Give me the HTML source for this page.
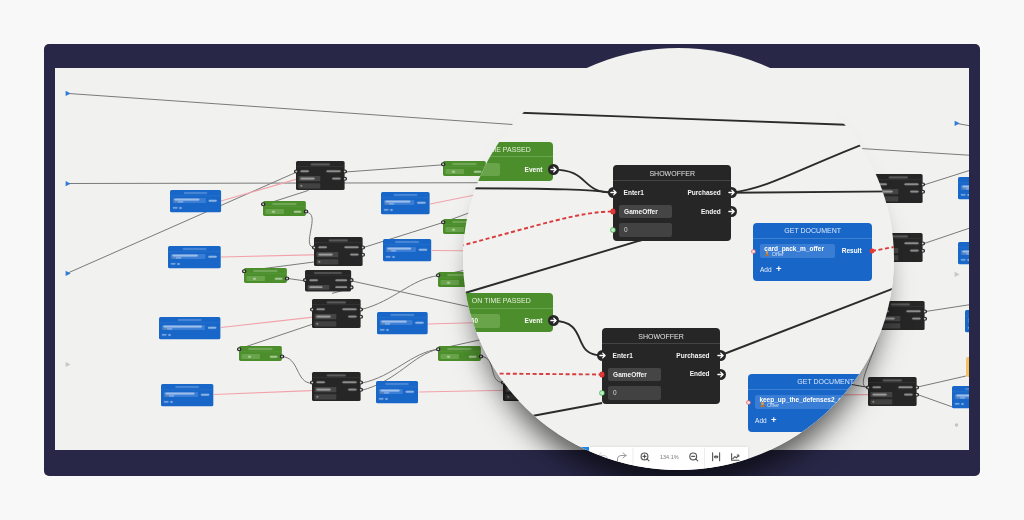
<!DOCTYPE html><html><head><meta charset="utf-8"><style>
*{margin:0;padding:0;box-sizing:border-box}
html,body{width:1024px;height:520px;overflow:hidden;background:#f8f8f8;font-family:"Liberation Sans", sans-serif}
.frame{position:absolute;left:44px;top:44px;width:936px;height:431.5px;background:#282747;border-radius:5px}
.canvas{position:absolute;left:55.4px;top:67.5px;width:913.6px;height:381.5px;background:#f1f1f0;overflow:hidden}
.abs{position:absolute;left:0;top:0}
.sm{position:absolute;transform-origin:0 0;transform:scale(0.412,0.382)}
.bg{position:absolute}
.sm .dot{display:none}
.sm .t{text-shadow:0 0 2px rgba(255,255,255,0.8),0 0 1px #fff;opacity:0.8}
.sm .ht{text-shadow:none;opacity:0.6}
.sm .pt svg{display:none}
.sm .pt{background:#c8c8c8 !important;border:3.2px solid #262626}
.sm{filter:blur(1.1px)}
.bar{position:absolute;border-radius:3px;opacity:0.5;box-shadow:0 0 2.5px 0.3px currentColor}
.hb{opacity:0.28}
body{-webkit-font-smoothing:antialiased}
.canvas,.magin{will-change:transform}
.nd{position:relative;border-radius:4px}
.dk{background:#262626}
.bl{background:#1766c8}
.gr{background:#4b8e2b}
.hd{position:absolute;left:0;top:0;right:0}
.bx{position:absolute;border-radius:2px}
.t{position:absolute;white-space:nowrap}
.pt{position:absolute;border-radius:50%}
.pt svg{position:absolute;left:0;top:0}
.mag{position:absolute;left:462.5px;top:48px;width:431px;height:422px;border-radius:50%;overflow:hidden;background:#f1f1f0}
.shclip{position:absolute;left:44px;top:44px;width:936px;height:431.5px;border-radius:5px;overflow:hidden}
.sh{position:absolute;left:418.5px;top:4px;width:431px;height:422px;border-radius:50%;box-shadow:0 26px 26px -12px rgba(0,0,0,0.42),0 30px 36px -16px rgba(0,0,0,0.42)}
.magin{position:absolute;left:-462.5px;top:-48px;width:1024px;height:520px}
</style></head><body><div class="frame"></div><div class="canvas"><div class="abs" style="left:-55.4px;top:-67.5px;width:1024px;height:520px"><svg class="abs" width="1024" height="520"><line x1="67" y1="92.4" x2="600" y2="129.6" stroke="#7a7a7a" stroke-width="1" opacity="1"/><line x1="67" y1="182.5" x2="600" y2="181.5" stroke="#7a7a7a" stroke-width="1" opacity="1"/><line x1="67" y1="272.4" x2="296.8" y2="171" stroke="#7a7a7a" stroke-width="1" opacity="1"/><line x1="221" y1="200" x2="296.8" y2="178.2" stroke="#f2a3aa" stroke-width="1.2" opacity="1"/><line x1="345.5" y1="171" x2="443" y2="163.8" stroke="#7a7a7a" stroke-width="1" opacity="1"/><line x1="263" y1="204" x2="308.5" y2="189.4" stroke="#7a7a7a" stroke-width="1" opacity="1"/><path d="M306 211.4C322 211.4 300 246.6 314.7 246.6" fill="none" stroke="#7a7a7a" stroke-width="1" opacity="1"/><line x1="430" y1="203" x2="500" y2="189" stroke="#f2a3aa" stroke-width="1.2" opacity="1"/><line x1="221" y1="256" x2="314.7" y2="253.8" stroke="#f2a3aa" stroke-width="1.2" opacity="1"/><line x1="363.2" y1="246.6" x2="443" y2="221.5" stroke="#7a7a7a" stroke-width="1" opacity="1"/><line x1="443" y1="221.5" x2="520" y2="193" stroke="#7a7a7a" stroke-width="1" opacity="1"/><line x1="432" y1="249.5" x2="500" y2="250" stroke="#f2a3aa" stroke-width="1.2" opacity="1"/><line x1="244.7" y1="270" x2="314.7" y2="260.9" stroke="#7a7a7a" stroke-width="1" opacity="1"/><line x1="288" y1="277.5" x2="305.8" y2="280" stroke="#7a7a7a" stroke-width="1" opacity="1"/><line x1="352" y1="280" x2="520" y2="317" stroke="#7a7a7a" stroke-width="1" opacity="1"/><line x1="352" y1="287.1" x2="332" y2="292.4" stroke="#7a7a7a" stroke-width="1" opacity="1"/><path d="M361 308.6C395 300 410 278 438.8 274.6" fill="none" stroke="#7a7a7a" stroke-width="1" opacity="1"/><line x1="438.8" y1="274.6" x2="520" y2="258" stroke="#7a7a7a" stroke-width="1" opacity="1"/><line x1="221" y1="326.5" x2="312.3" y2="316.2" stroke="#f2a3aa" stroke-width="1.2" opacity="1"/><line x1="238.9" y1="348" x2="312.3" y2="323.3" stroke="#7a7a7a" stroke-width="1" opacity="1"/><path d="M281 355.6C300 355.6 295 382.3 312.3 382.3" fill="none" stroke="#7a7a7a" stroke-width="1" opacity="1"/><line x1="214" y1="393.5" x2="312.3" y2="389.5" stroke="#f2a3aa" stroke-width="1.2" opacity="1"/><line x1="428" y1="323" x2="500" y2="321" stroke="#f2a3aa" stroke-width="1.2" opacity="1"/><path d="M361 382.3C395 375 410 352 438.7 348" fill="none" stroke="#7a7a7a" stroke-width="1" opacity="1"/><path d="M361 389.5C398 380 412 354 438.7 348" fill="none" stroke="#7a7a7a" stroke-width="1" opacity="1"/><line x1="438.7" y1="348" x2="520" y2="330" stroke="#7a7a7a" stroke-width="1" opacity="1"/><line x1="418.75" y1="391" x2="520" y2="389" stroke="#f2a3aa" stroke-width="1.2" opacity="1"/><path d="M481.25 355.6C497 356 488 381.5 503 381.5" fill="none" stroke="#7a7a7a" stroke-width="1" opacity="1"/><line x1="956" y1="122.3" x2="969" y2="124.6" stroke="#7a7a7a" stroke-width="1" opacity="1"/><line x1="820" y1="145" x2="969" y2="154.2" stroke="#7a7a7a" stroke-width="1" opacity="1"/><line x1="922.7" y1="184.3" x2="969" y2="169.6" stroke="#7a7a7a" stroke-width="1" opacity="1"/><line x1="820" y1="191.5" x2="873.9" y2="191.5" stroke="#333" stroke-width="1.3" opacity="1"/><line x1="922.7" y1="243" x2="969" y2="227.3" stroke="#7a7a7a" stroke-width="1" opacity="1"/><line x1="925" y1="310.6" x2="969" y2="303.8" stroke="#7a7a7a" stroke-width="1" opacity="1"/><line x1="916" y1="386.4" x2="966" y2="375" stroke="#7a7a7a" stroke-width="1" opacity="1"/><line x1="916" y1="393" x2="952" y2="405.8" stroke="#7a7a7a" stroke-width="1" opacity="1"/><path d="M880 330C872 360 855 386.4 868 386.4" fill="none" stroke="#7a7a7a" stroke-width="1" opacity="1"/><line x1="835" y1="380.5" x2="868" y2="386.4" stroke="#444" stroke-width="1" opacity="1"/><line x1="820" y1="394" x2="868" y2="393.6" stroke="#f2a3aa" stroke-width="1.2" opacity="1"/><path d="M65.6 89.80000000000001L70.6 92.4L65.6 95.0Z" fill="#2f7ad8"/><path d="M65.6 180.1L70.6 182.7L65.6 185.29999999999998Z" fill="#2f7ad8"/><path d="M65.6 269.79999999999995L70.6 272.4L65.6 275.0Z" fill="#2f7ad8"/><path d="M65.6 360.9L70.6 363.5L65.6 366.1Z" fill="#c8c8c8"/><path d="M954.6 119.7L959.6 122.3L954.6 124.89999999999999Z" fill="#2f7ad8"/><path d="M954.6 270.79999999999995L959.6 273.4L954.6 276.0Z" fill="#c8c8c8"/><circle cx="956.5" cy="424" r="1.8" fill="#c4c4c4"/></svg><div class="sm" style="left:296.8px;top:160.6px"><div class="nd dk" style="width:118.2px;height:75.6px"><div class="hd" style="height:15.4px;border-bottom:1px solid #444"></div><div class="bar hb" style="left:calc(50% - 22.75px);top:6.60px;width:45.50px;height:4.20px;background:#e2e2e2;color:#e2e2e2"></div><div class="bar" style="left:10.5px;top:25.35px;width:20.23px;height:3.90px;background:#f4f4f4;color:#f4f4f4"></div><div class="bar" style="right:10.5px;top:25.35px;width:33.23px;height:3.90px;background:#f4f4f4;color:#f4f4f4"></div><div class="bx" style="left:6px;top:39.4px;width:52.5px;height:13.6px;background:#454545"></div><div class="bar" style="left:11px;top:44.25px;width:33.59px;height:3.90px;background:#f4f4f4;color:#f4f4f4"></div><div class="bar" style="right:10.5px;top:44.15px;width:19.86px;height:3.90px;background:#f4f4f4;color:#f4f4f4"></div><div class="bx" style="left:6px;top:57.6px;width:52.5px;height:14px;background:#424242"></div><div class="bar" style="left:11px;top:62.75px;width:3.61px;height:3.90px;background:#dadada;color:#dadada"></div><div class="pt" style="left:-5.5px;top:21.8px;width:11.0px;height:11.0px;background:#262626"><svg width="11.0" height="11.0" viewBox="-5.5 -5.5 11 11"><path d="M-2.6 0H2.4M0.2-2.4L2.6 0L0.2 2.4" stroke="#fff" stroke-width="1.3" fill="none" stroke-linecap="round" stroke-linejoin="round"/></svg></div><div class="pt" style="left:112.7px;top:21.8px;width:11.0px;height:11.0px;background:#262626"><svg width="11.0" height="11.0" viewBox="-5.5 -5.5 11 11"><path d="M-2.6 0H2.4M0.2-2.4L2.6 0L0.2 2.4" stroke="#fff" stroke-width="1.3" fill="none" stroke-linecap="round" stroke-linejoin="round"/></svg></div><div class="pt" style="left:112.7px;top:40.6px;width:11.0px;height:11.0px;background:#262626"><svg width="11.0" height="11.0" viewBox="-5.5 -5.5 11 11"><path d="M-2.6 0H2.4M0.2-2.4L2.6 0L0.2 2.4" stroke="#fff" stroke-width="1.3" fill="none" stroke-linecap="round" stroke-linejoin="round"/></svg></div><div class="pt dot" style="left:-2.2px;top:43.9px;width:4.4px;height:4.4px;background:#e53935;box-shadow:0 0 0 0.5px #c62828"></div><div class="pt dot" style="left:-2.2px;top:62.39999999999999px;width:4.4px;height:4.4px;background:#b9f0c8;box-shadow:0 0 0 0.7px #4caf50"></div></div></div><div class="sm" style="left:314.7px;top:236.2px"><div class="nd dk" style="width:118.2px;height:75.6px"><div class="hd" style="height:15.4px;border-bottom:1px solid #444"></div><div class="bar hb" style="left:calc(50% - 22.75px);top:6.60px;width:45.50px;height:4.20px;background:#e2e2e2;color:#e2e2e2"></div><div class="bar" style="left:10.5px;top:25.35px;width:20.23px;height:3.90px;background:#f4f4f4;color:#f4f4f4"></div><div class="bar" style="right:10.5px;top:25.35px;width:33.23px;height:3.90px;background:#f4f4f4;color:#f4f4f4"></div><div class="bx" style="left:6px;top:39.4px;width:52.5px;height:13.6px;background:#454545"></div><div class="bar" style="left:11px;top:44.25px;width:33.59px;height:3.90px;background:#f4f4f4;color:#f4f4f4"></div><div class="bar" style="right:10.5px;top:44.15px;width:19.86px;height:3.90px;background:#f4f4f4;color:#f4f4f4"></div><div class="bx" style="left:6px;top:57.6px;width:52.5px;height:14px;background:#424242"></div><div class="bar" style="left:11px;top:62.75px;width:3.61px;height:3.90px;background:#dadada;color:#dadada"></div><div class="pt" style="left:-5.5px;top:21.8px;width:11.0px;height:11.0px;background:#262626"><svg width="11.0" height="11.0" viewBox="-5.5 -5.5 11 11"><path d="M-2.6 0H2.4M0.2-2.4L2.6 0L0.2 2.4" stroke="#fff" stroke-width="1.3" fill="none" stroke-linecap="round" stroke-linejoin="round"/></svg></div><div class="pt" style="left:112.7px;top:21.8px;width:11.0px;height:11.0px;background:#262626"><svg width="11.0" height="11.0" viewBox="-5.5 -5.5 11 11"><path d="M-2.6 0H2.4M0.2-2.4L2.6 0L0.2 2.4" stroke="#fff" stroke-width="1.3" fill="none" stroke-linecap="round" stroke-linejoin="round"/></svg></div><div class="pt" style="left:112.7px;top:40.6px;width:11.0px;height:11.0px;background:#262626"><svg width="11.0" height="11.0" viewBox="-5.5 -5.5 11 11"><path d="M-2.6 0H2.4M0.2-2.4L2.6 0L0.2 2.4" stroke="#fff" stroke-width="1.3" fill="none" stroke-linecap="round" stroke-linejoin="round"/></svg></div><div class="pt dot" style="left:-2.2px;top:43.9px;width:4.4px;height:4.4px;background:#e53935;box-shadow:0 0 0 0.5px #c62828"></div><div class="pt dot" style="left:-2.2px;top:62.39999999999999px;width:4.4px;height:4.4px;background:#b9f0c8;box-shadow:0 0 0 0.7px #4caf50"></div></div></div><div class="sm" style="left:312.3px;top:298.6px"><div class="nd dk" style="width:118.2px;height:75.6px"><div class="hd" style="height:15.4px;border-bottom:1px solid #444"></div><div class="bar hb" style="left:calc(50% - 22.75px);top:6.60px;width:45.50px;height:4.20px;background:#e2e2e2;color:#e2e2e2"></div><div class="bar" style="left:10.5px;top:25.35px;width:20.23px;height:3.90px;background:#f4f4f4;color:#f4f4f4"></div><div class="bar" style="right:10.5px;top:25.35px;width:33.23px;height:3.90px;background:#f4f4f4;color:#f4f4f4"></div><div class="bx" style="left:6px;top:39.4px;width:52.5px;height:13.6px;background:#454545"></div><div class="bar" style="left:11px;top:44.25px;width:33.59px;height:3.90px;background:#f4f4f4;color:#f4f4f4"></div><div class="bar" style="right:10.5px;top:44.15px;width:19.86px;height:3.90px;background:#f4f4f4;color:#f4f4f4"></div><div class="bx" style="left:6px;top:57.6px;width:52.5px;height:14px;background:#424242"></div><div class="bar" style="left:11px;top:62.75px;width:3.61px;height:3.90px;background:#dadada;color:#dadada"></div><div class="pt" style="left:-5.5px;top:21.8px;width:11.0px;height:11.0px;background:#262626"><svg width="11.0" height="11.0" viewBox="-5.5 -5.5 11 11"><path d="M-2.6 0H2.4M0.2-2.4L2.6 0L0.2 2.4" stroke="#fff" stroke-width="1.3" fill="none" stroke-linecap="round" stroke-linejoin="round"/></svg></div><div class="pt" style="left:112.7px;top:21.8px;width:11.0px;height:11.0px;background:#262626"><svg width="11.0" height="11.0" viewBox="-5.5 -5.5 11 11"><path d="M-2.6 0H2.4M0.2-2.4L2.6 0L0.2 2.4" stroke="#fff" stroke-width="1.3" fill="none" stroke-linecap="round" stroke-linejoin="round"/></svg></div><div class="pt" style="left:112.7px;top:40.6px;width:11.0px;height:11.0px;background:#262626"><svg width="11.0" height="11.0" viewBox="-5.5 -5.5 11 11"><path d="M-2.6 0H2.4M0.2-2.4L2.6 0L0.2 2.4" stroke="#fff" stroke-width="1.3" fill="none" stroke-linecap="round" stroke-linejoin="round"/></svg></div><div class="pt dot" style="left:-2.2px;top:43.9px;width:4.4px;height:4.4px;background:#e53935;box-shadow:0 0 0 0.5px #c62828"></div><div class="pt dot" style="left:-2.2px;top:62.39999999999999px;width:4.4px;height:4.4px;background:#b9f0c8;box-shadow:0 0 0 0.7px #4caf50"></div></div></div><div class="sm" style="left:312.3px;top:371.9px"><div class="nd dk" style="width:118.2px;height:75.6px"><div class="hd" style="height:15.4px;border-bottom:1px solid #444"></div><div class="bar hb" style="left:calc(50% - 22.75px);top:6.60px;width:45.50px;height:4.20px;background:#e2e2e2;color:#e2e2e2"></div><div class="bar" style="left:10.5px;top:25.35px;width:20.23px;height:3.90px;background:#f4f4f4;color:#f4f4f4"></div><div class="bar" style="right:10.5px;top:25.35px;width:33.23px;height:3.90px;background:#f4f4f4;color:#f4f4f4"></div><div class="bx" style="left:6px;top:39.4px;width:52.5px;height:13.6px;background:#454545"></div><div class="bar" style="left:11px;top:44.25px;width:33.59px;height:3.90px;background:#f4f4f4;color:#f4f4f4"></div><div class="bar" style="right:10.5px;top:44.15px;width:19.86px;height:3.90px;background:#f4f4f4;color:#f4f4f4"></div><div class="bx" style="left:6px;top:57.6px;width:52.5px;height:14px;background:#424242"></div><div class="bar" style="left:11px;top:62.75px;width:3.61px;height:3.90px;background:#dadada;color:#dadada"></div><div class="pt" style="left:-5.5px;top:21.8px;width:11.0px;height:11.0px;background:#262626"><svg width="11.0" height="11.0" viewBox="-5.5 -5.5 11 11"><path d="M-2.6 0H2.4M0.2-2.4L2.6 0L0.2 2.4" stroke="#fff" stroke-width="1.3" fill="none" stroke-linecap="round" stroke-linejoin="round"/></svg></div><div class="pt" style="left:112.7px;top:21.8px;width:11.0px;height:11.0px;background:#262626"><svg width="11.0" height="11.0" viewBox="-5.5 -5.5 11 11"><path d="M-2.6 0H2.4M0.2-2.4L2.6 0L0.2 2.4" stroke="#fff" stroke-width="1.3" fill="none" stroke-linecap="round" stroke-linejoin="round"/></svg></div><div class="pt" style="left:112.7px;top:40.6px;width:11.0px;height:11.0px;background:#262626"><svg width="11.0" height="11.0" viewBox="-5.5 -5.5 11 11"><path d="M-2.6 0H2.4M0.2-2.4L2.6 0L0.2 2.4" stroke="#fff" stroke-width="1.3" fill="none" stroke-linecap="round" stroke-linejoin="round"/></svg></div><div class="pt dot" style="left:-2.2px;top:43.9px;width:4.4px;height:4.4px;background:#e53935;box-shadow:0 0 0 0.5px #c62828"></div><div class="pt dot" style="left:-2.2px;top:62.39999999999999px;width:4.4px;height:4.4px;background:#b9f0c8;box-shadow:0 0 0 0.7px #4caf50"></div></div></div><div class="sm" style="left:873.9px;top:173.8px"><div class="nd dk" style="width:118.2px;height:75.6px"><div class="hd" style="height:15.4px;border-bottom:1px solid #444"></div><div class="bar hb" style="left:calc(50% - 22.75px);top:6.60px;width:45.50px;height:4.20px;background:#e2e2e2;color:#e2e2e2"></div><div class="bar" style="left:10.5px;top:25.35px;width:20.23px;height:3.90px;background:#f4f4f4;color:#f4f4f4"></div><div class="bar" style="right:10.5px;top:25.35px;width:33.23px;height:3.90px;background:#f4f4f4;color:#f4f4f4"></div><div class="bx" style="left:6px;top:39.4px;width:52.5px;height:13.6px;background:#454545"></div><div class="bar" style="left:11px;top:44.25px;width:33.59px;height:3.90px;background:#f4f4f4;color:#f4f4f4"></div><div class="bar" style="right:10.5px;top:44.15px;width:19.86px;height:3.90px;background:#f4f4f4;color:#f4f4f4"></div><div class="bx" style="left:6px;top:57.6px;width:52.5px;height:14px;background:#424242"></div><div class="bar" style="left:11px;top:62.75px;width:3.61px;height:3.90px;background:#dadada;color:#dadada"></div><div class="pt" style="left:-5.5px;top:21.8px;width:11.0px;height:11.0px;background:#262626"><svg width="11.0" height="11.0" viewBox="-5.5 -5.5 11 11"><path d="M-2.6 0H2.4M0.2-2.4L2.6 0L0.2 2.4" stroke="#fff" stroke-width="1.3" fill="none" stroke-linecap="round" stroke-linejoin="round"/></svg></div><div class="pt" style="left:112.7px;top:21.8px;width:11.0px;height:11.0px;background:#262626"><svg width="11.0" height="11.0" viewBox="-5.5 -5.5 11 11"><path d="M-2.6 0H2.4M0.2-2.4L2.6 0L0.2 2.4" stroke="#fff" stroke-width="1.3" fill="none" stroke-linecap="round" stroke-linejoin="round"/></svg></div><div class="pt" style="left:112.7px;top:40.6px;width:11.0px;height:11.0px;background:#262626"><svg width="11.0" height="11.0" viewBox="-5.5 -5.5 11 11"><path d="M-2.6 0H2.4M0.2-2.4L2.6 0L0.2 2.4" stroke="#fff" stroke-width="1.3" fill="none" stroke-linecap="round" stroke-linejoin="round"/></svg></div><div class="pt dot" style="left:-2.2px;top:43.9px;width:4.4px;height:4.4px;background:#e53935;box-shadow:0 0 0 0.5px #c62828"></div><div class="pt dot" style="left:-2.2px;top:62.39999999999999px;width:4.4px;height:4.4px;background:#b9f0c8;box-shadow:0 0 0 0.7px #4caf50"></div></div></div><div class="sm" style="left:873.9px;top:232.3px"><div class="nd dk" style="width:118.2px;height:75.6px"><div class="hd" style="height:15.4px;border-bottom:1px solid #444"></div><div class="bar hb" style="left:calc(50% - 22.75px);top:6.60px;width:45.50px;height:4.20px;background:#e2e2e2;color:#e2e2e2"></div><div class="bar" style="left:10.5px;top:25.35px;width:20.23px;height:3.90px;background:#f4f4f4;color:#f4f4f4"></div><div class="bar" style="right:10.5px;top:25.35px;width:33.23px;height:3.90px;background:#f4f4f4;color:#f4f4f4"></div><div class="bx" style="left:6px;top:39.4px;width:52.5px;height:13.6px;background:#454545"></div><div class="bar" style="left:11px;top:44.25px;width:33.59px;height:3.90px;background:#f4f4f4;color:#f4f4f4"></div><div class="bar" style="right:10.5px;top:44.15px;width:19.86px;height:3.90px;background:#f4f4f4;color:#f4f4f4"></div><div class="bx" style="left:6px;top:57.6px;width:52.5px;height:14px;background:#424242"></div><div class="bar" style="left:11px;top:62.75px;width:3.61px;height:3.90px;background:#dadada;color:#dadada"></div><div class="pt" style="left:-5.5px;top:21.8px;width:11.0px;height:11.0px;background:#262626"><svg width="11.0" height="11.0" viewBox="-5.5 -5.5 11 11"><path d="M-2.6 0H2.4M0.2-2.4L2.6 0L0.2 2.4" stroke="#fff" stroke-width="1.3" fill="none" stroke-linecap="round" stroke-linejoin="round"/></svg></div><div class="pt" style="left:112.7px;top:21.8px;width:11.0px;height:11.0px;background:#262626"><svg width="11.0" height="11.0" viewBox="-5.5 -5.5 11 11"><path d="M-2.6 0H2.4M0.2-2.4L2.6 0L0.2 2.4" stroke="#fff" stroke-width="1.3" fill="none" stroke-linecap="round" stroke-linejoin="round"/></svg></div><div class="pt" style="left:112.7px;top:40.6px;width:11.0px;height:11.0px;background:#262626"><svg width="11.0" height="11.0" viewBox="-5.5 -5.5 11 11"><path d="M-2.6 0H2.4M0.2-2.4L2.6 0L0.2 2.4" stroke="#fff" stroke-width="1.3" fill="none" stroke-linecap="round" stroke-linejoin="round"/></svg></div><div class="pt dot" style="left:-2.2px;top:43.9px;width:4.4px;height:4.4px;background:#e53935;box-shadow:0 0 0 0.5px #c62828"></div><div class="pt dot" style="left:-2.2px;top:62.39999999999999px;width:4.4px;height:4.4px;background:#b9f0c8;box-shadow:0 0 0 0.7px #4caf50"></div></div></div><div class="sm" style="left:876.2px;top:300.5px"><div class="nd dk" style="width:118.2px;height:75.6px"><div class="hd" style="height:15.4px;border-bottom:1px solid #444"></div><div class="bar hb" style="left:calc(50% - 22.75px);top:6.60px;width:45.50px;height:4.20px;background:#e2e2e2;color:#e2e2e2"></div><div class="bar" style="left:10.5px;top:25.35px;width:20.23px;height:3.90px;background:#f4f4f4;color:#f4f4f4"></div><div class="bar" style="right:10.5px;top:25.35px;width:33.23px;height:3.90px;background:#f4f4f4;color:#f4f4f4"></div><div class="bx" style="left:6px;top:39.4px;width:52.5px;height:13.6px;background:#454545"></div><div class="bar" style="left:11px;top:44.25px;width:33.59px;height:3.90px;background:#f4f4f4;color:#f4f4f4"></div><div class="bar" style="right:10.5px;top:44.15px;width:19.86px;height:3.90px;background:#f4f4f4;color:#f4f4f4"></div><div class="bx" style="left:6px;top:57.6px;width:52.5px;height:14px;background:#424242"></div><div class="bar" style="left:11px;top:62.75px;width:3.61px;height:3.90px;background:#dadada;color:#dadada"></div><div class="pt" style="left:-5.5px;top:21.8px;width:11.0px;height:11.0px;background:#262626"><svg width="11.0" height="11.0" viewBox="-5.5 -5.5 11 11"><path d="M-2.6 0H2.4M0.2-2.4L2.6 0L0.2 2.4" stroke="#fff" stroke-width="1.3" fill="none" stroke-linecap="round" stroke-linejoin="round"/></svg></div><div class="pt" style="left:112.7px;top:21.8px;width:11.0px;height:11.0px;background:#262626"><svg width="11.0" height="11.0" viewBox="-5.5 -5.5 11 11"><path d="M-2.6 0H2.4M0.2-2.4L2.6 0L0.2 2.4" stroke="#fff" stroke-width="1.3" fill="none" stroke-linecap="round" stroke-linejoin="round"/></svg></div><div class="pt" style="left:112.7px;top:40.6px;width:11.0px;height:11.0px;background:#262626"><svg width="11.0" height="11.0" viewBox="-5.5 -5.5 11 11"><path d="M-2.6 0H2.4M0.2-2.4L2.6 0L0.2 2.4" stroke="#fff" stroke-width="1.3" fill="none" stroke-linecap="round" stroke-linejoin="round"/></svg></div><div class="pt dot" style="left:-2.2px;top:43.9px;width:4.4px;height:4.4px;background:#e53935;box-shadow:0 0 0 0.5px #c62828"></div><div class="pt dot" style="left:-2.2px;top:62.39999999999999px;width:4.4px;height:4.4px;background:#b9f0c8;box-shadow:0 0 0 0.7px #4caf50"></div></div></div><div class="sm" style="left:868px;top:376px"><div class="nd dk" style="width:118.2px;height:75.6px"><div class="hd" style="height:15.4px;border-bottom:1px solid #444"></div><div class="bar hb" style="left:calc(50% - 22.75px);top:6.60px;width:45.50px;height:4.20px;background:#e2e2e2;color:#e2e2e2"></div><div class="bar" style="left:10.5px;top:25.35px;width:20.23px;height:3.90px;background:#f4f4f4;color:#f4f4f4"></div><div class="bar" style="right:10.5px;top:25.35px;width:33.23px;height:3.90px;background:#f4f4f4;color:#f4f4f4"></div><div class="bx" style="left:6px;top:39.4px;width:52.5px;height:13.6px;background:#454545"></div><div class="bar" style="left:11px;top:44.25px;width:33.59px;height:3.90px;background:#f4f4f4;color:#f4f4f4"></div><div class="bar" style="right:10.5px;top:44.15px;width:19.86px;height:3.90px;background:#f4f4f4;color:#f4f4f4"></div><div class="bx" style="left:6px;top:57.6px;width:52.5px;height:14px;background:#424242"></div><div class="bar" style="left:11px;top:62.75px;width:3.61px;height:3.90px;background:#dadada;color:#dadada"></div><div class="pt" style="left:-5.5px;top:21.8px;width:11.0px;height:11.0px;background:#262626"><svg width="11.0" height="11.0" viewBox="-5.5 -5.5 11 11"><path d="M-2.6 0H2.4M0.2-2.4L2.6 0L0.2 2.4" stroke="#fff" stroke-width="1.3" fill="none" stroke-linecap="round" stroke-linejoin="round"/></svg></div><div class="pt" style="left:112.7px;top:21.8px;width:11.0px;height:11.0px;background:#262626"><svg width="11.0" height="11.0" viewBox="-5.5 -5.5 11 11"><path d="M-2.6 0H2.4M0.2-2.4L2.6 0L0.2 2.4" stroke="#fff" stroke-width="1.3" fill="none" stroke-linecap="round" stroke-linejoin="round"/></svg></div><div class="pt" style="left:112.7px;top:40.6px;width:11.0px;height:11.0px;background:#262626"><svg width="11.0" height="11.0" viewBox="-5.5 -5.5 11 11"><path d="M-2.6 0H2.4M0.2-2.4L2.6 0L0.2 2.4" stroke="#fff" stroke-width="1.3" fill="none" stroke-linecap="round" stroke-linejoin="round"/></svg></div><div class="pt dot" style="left:-2.2px;top:43.9px;width:4.4px;height:4.4px;background:#e53935;box-shadow:0 0 0 0.5px #c62828"></div><div class="pt dot" style="left:-2.2px;top:62.39999999999999px;width:4.4px;height:4.4px;background:#b9f0c8;box-shadow:0 0 0 0.7px #4caf50"></div></div></div><div class="sm" style="left:503px;top:371.1px"><div class="nd dk" style="width:118.2px;height:75.6px"><div class="hd" style="height:15.4px;border-bottom:1px solid #444"></div><div class="bar hb" style="left:calc(50% - 22.75px);top:6.60px;width:45.50px;height:4.20px;background:#e2e2e2;color:#e2e2e2"></div><div class="bar" style="left:10.5px;top:25.35px;width:20.23px;height:3.90px;background:#f4f4f4;color:#f4f4f4"></div><div class="bar" style="right:10.5px;top:25.35px;width:33.23px;height:3.90px;background:#f4f4f4;color:#f4f4f4"></div><div class="bx" style="left:6px;top:39.4px;width:52.5px;height:13.6px;background:#454545"></div><div class="bar" style="left:11px;top:44.25px;width:33.59px;height:3.90px;background:#f4f4f4;color:#f4f4f4"></div><div class="bar" style="right:10.5px;top:44.15px;width:19.86px;height:3.90px;background:#f4f4f4;color:#f4f4f4"></div><div class="bx" style="left:6px;top:57.6px;width:52.5px;height:14px;background:#424242"></div><div class="bar" style="left:11px;top:62.75px;width:3.61px;height:3.90px;background:#dadada;color:#dadada"></div><div class="pt" style="left:-5.5px;top:21.8px;width:11.0px;height:11.0px;background:#262626"><svg width="11.0" height="11.0" viewBox="-5.5 -5.5 11 11"><path d="M-2.6 0H2.4M0.2-2.4L2.6 0L0.2 2.4" stroke="#fff" stroke-width="1.3" fill="none" stroke-linecap="round" stroke-linejoin="round"/></svg></div><div class="pt" style="left:112.7px;top:21.8px;width:11.0px;height:11.0px;background:#262626"><svg width="11.0" height="11.0" viewBox="-5.5 -5.5 11 11"><path d="M-2.6 0H2.4M0.2-2.4L2.6 0L0.2 2.4" stroke="#fff" stroke-width="1.3" fill="none" stroke-linecap="round" stroke-linejoin="round"/></svg></div><div class="pt" style="left:112.7px;top:40.6px;width:11.0px;height:11.0px;background:#262626"><svg width="11.0" height="11.0" viewBox="-5.5 -5.5 11 11"><path d="M-2.6 0H2.4M0.2-2.4L2.6 0L0.2 2.4" stroke="#fff" stroke-width="1.3" fill="none" stroke-linecap="round" stroke-linejoin="round"/></svg></div><div class="pt dot" style="left:-2.2px;top:43.9px;width:4.4px;height:4.4px;background:#e53935;box-shadow:0 0 0 0.5px #c62828"></div><div class="pt dot" style="left:-2.2px;top:62.39999999999999px;width:4.4px;height:4.4px;background:#b9f0c8;box-shadow:0 0 0 0.7px #4caf50"></div></div></div><div class="sm" style="left:305.8px;top:269.8px"><div class="nd dk" style="width:112px;height:55.8px"><div class="hd" style="height:14.7px;border-bottom:1px solid #3a3a3a"></div><div class="bar hb" style="left:calc(50% - 33.52px);top:5.50px;width:67.03px;height:4.20px;background:#cfcfcf;color:#cfcfcf"></div><div class="bar" style="left:10.5px;top:24.75px;width:20.23px;height:3.90px;background:#f4f4f4;color:#f4f4f4"></div><div class="bar" style="right:10.5px;top:24.75px;width:27.45px;height:3.90px;background:#f4f4f4;color:#f4f4f4"></div><div class="bx" style="left:6px;top:38.5px;width:53px;height:13.6px;background:#454545"></div><div class="bar" style="left:11px;top:43.35px;width:31.06px;height:3.90px;background:#f4f4f4;color:#f4f4f4"></div><div class="bar" style="right:10.5px;top:43.35px;width:27.45px;height:3.90px;background:#f4f4f4;color:#f4f4f4"></div><div class="pt" style="left:-5.5px;top:21.2px;width:11.0px;height:11.0px;background:#262626"><svg width="11.0" height="11.0" viewBox="-5.5 -5.5 11 11"><path d="M-2.6 0H2.4M0.2-2.4L2.6 0L0.2 2.4" stroke="#fff" stroke-width="1.3" fill="none" stroke-linecap="round" stroke-linejoin="round"/></svg></div><div class="pt" style="left:106.5px;top:21.2px;width:11.0px;height:11.0px;background:#262626"><svg width="11.0" height="11.0" viewBox="-5.5 -5.5 11 11"><path d="M-2.6 0H2.4M0.2-2.4L2.6 0L0.2 2.4" stroke="#fff" stroke-width="1.3" fill="none" stroke-linecap="round" stroke-linejoin="round"/></svg></div><div class="pt" style="left:106.5px;top:39.8px;width:11.0px;height:11.0px;background:#262626"><svg width="11.0" height="11.0" viewBox="-5.5 -5.5 11 11"><path d="M-2.6 0H2.4M0.2-2.4L2.6 0L0.2 2.4" stroke="#fff" stroke-width="1.3" fill="none" stroke-linecap="round" stroke-linejoin="round"/></svg></div></div></div><div class="sm" style="left:170.2px;top:189.6px"><div class="nd bl" style="width:123.7864077669903px;height:57.8px"><div class="hd" style="height:15.6px;border-bottom:1px solid #3d7fd3"></div><div class="bar hb" style="left:calc(50% - 28.32px);top:6.00px;width:56.65px;height:4.20px;background:#dbe8fa;color:#dbe8fa"></div><div class="bx" style="left:7px;top:20.7px;width:79.58640776699029px;height:13.7px;background:#3a7dd4;overflow:hidden"><div class="bar" style="left:4px;top:2.5px;width:59.61px;height:4px;background:#fff;color:#fff"></div><div class="bar" style="left:4.6px;top:8px;width:4.6px;height:4.4px;background:#b88a50;color:#b88a50"></div><div class="bar" style="left:11.5px;top:8.6px;width:13px;height:3.6px;background:#cfe0f7;color:#cfe0f7;opacity:0.4"></div></div><div class="bar" style="right:10.4px;top:25.75px;width:19.86px;height:3.90px;background:#fff;color:#fff"></div><div class="bar" style="left:6.7px;top:44.55px;width:11.56px;height:3.90px;background:#e6effb;color:#e6effb"></div><div class="bar" style="left:22.6px;top:44.5px;width:5.5px;height:4px;background:#fff;color:#fff"></div><div class="pt dot" style="left:-1.5px;top:26.9px;width:3.0px;height:3.0px;background:#fde0e0;box-shadow:0 0 0 0.8px #e46a6a"></div><div class="pt dot" style="left:122.08640776699029px;top:26.0px;width:3.4px;height:3.4px;background:#e53935;box-shadow:0 0 0 0.4px #e53935"></div></div></div><div class="sm" style="left:381.2px;top:191.8px"><div class="nd bl" style="width:118.44660194174757px;height:57.8px"><div class="hd" style="height:15.6px;border-bottom:1px solid #3d7fd3"></div><div class="bar hb" style="left:calc(50% - 28.32px);top:6.00px;width:56.65px;height:4.20px;background:#dbe8fa;color:#dbe8fa"></div><div class="bx" style="left:7px;top:20.7px;width:74.24660194174757px;height:13.7px;background:#3a7dd4;overflow:hidden"><div class="bar" style="left:4px;top:2.5px;width:59.61px;height:4px;background:#fff;color:#fff"></div><div class="bar" style="left:4.6px;top:8px;width:4.6px;height:4.4px;background:#b88a50;color:#b88a50"></div><div class="bar" style="left:11.5px;top:8.6px;width:13px;height:3.6px;background:#cfe0f7;color:#cfe0f7;opacity:0.4"></div></div><div class="bar" style="right:10.4px;top:25.75px;width:19.86px;height:3.90px;background:#fff;color:#fff"></div><div class="bar" style="left:6.7px;top:44.55px;width:11.56px;height:3.90px;background:#e6effb;color:#e6effb"></div><div class="bar" style="left:22.6px;top:44.5px;width:5.5px;height:4px;background:#fff;color:#fff"></div><div class="pt dot" style="left:-1.5px;top:26.9px;width:3.0px;height:3.0px;background:#fde0e0;box-shadow:0 0 0 0.8px #e46a6a"></div><div class="pt dot" style="left:116.74660194174757px;top:26.0px;width:3.4px;height:3.4px;background:#e53935;box-shadow:0 0 0 0.4px #e53935"></div></div></div><div class="sm" style="left:168px;top:245.1px"><div class="nd bl" style="width:128.39805825242718px;height:57.8px"><div class="hd" style="height:15.6px;border-bottom:1px solid #3d7fd3"></div><div class="bar hb" style="left:calc(50% - 28.32px);top:6.00px;width:56.65px;height:4.20px;background:#dbe8fa;color:#dbe8fa"></div><div class="bx" style="left:7px;top:20.7px;width:84.19805825242717px;height:13.7px;background:#3a7dd4;overflow:hidden"><div class="bar" style="left:4px;top:2.5px;width:60.69px;height:4px;background:#fff;color:#fff"></div><div class="bar" style="left:4.6px;top:8px;width:4.6px;height:4.4px;background:#b88a50;color:#b88a50"></div><div class="bar" style="left:11.5px;top:8.6px;width:13px;height:3.6px;background:#cfe0f7;color:#cfe0f7;opacity:0.4"></div></div><div class="bar" style="right:10.4px;top:25.75px;width:19.86px;height:3.90px;background:#fff;color:#fff"></div><div class="bar" style="left:6.7px;top:44.55px;width:11.56px;height:3.90px;background:#e6effb;color:#e6effb"></div><div class="bar" style="left:22.6px;top:44.5px;width:5.5px;height:4px;background:#fff;color:#fff"></div><div class="pt dot" style="left:-1.5px;top:26.9px;width:3.0px;height:3.0px;background:#fde0e0;box-shadow:0 0 0 0.8px #e46a6a"></div><div class="pt dot" style="left:126.69805825242717px;top:26.0px;width:3.4px;height:3.4px;background:#e53935;box-shadow:0 0 0 0.4px #e53935"></div></div></div><div class="sm" style="left:159.4px;top:316.3px"><div class="nd bl" style="width:149.27184466019418px;height:57.8px"><div class="hd" style="height:15.6px;border-bottom:1px solid #3d7fd3"></div><div class="bar hb" style="left:calc(50% - 28.32px);top:6.00px;width:56.65px;height:4.20px;background:#dbe8fa;color:#dbe8fa"></div><div class="bx" style="left:7px;top:20.7px;width:105.07184466019417px;height:13.7px;background:#3a7dd4;overflow:hidden"><div class="bar" style="left:4px;top:2.5px;width:93.20px;height:4px;background:#fff;color:#fff"></div><div class="bar" style="left:4.6px;top:8px;width:4.6px;height:4.4px;background:#b88a50;color:#b88a50"></div><div class="bar" style="left:11.5px;top:8.6px;width:13px;height:3.6px;background:#cfe0f7;color:#cfe0f7;opacity:0.4"></div></div><div class="bar" style="right:10.4px;top:25.75px;width:19.86px;height:3.90px;background:#fff;color:#fff"></div><div class="bar" style="left:6.7px;top:44.55px;width:11.56px;height:3.90px;background:#e6effb;color:#e6effb"></div><div class="bar" style="left:22.6px;top:44.5px;width:5.5px;height:4px;background:#fff;color:#fff"></div><div class="pt dot" style="left:-1.5px;top:26.9px;width:3.0px;height:3.0px;background:#fde0e0;box-shadow:0 0 0 0.8px #e46a6a"></div><div class="pt dot" style="left:147.5718446601942px;top:26.0px;width:3.4px;height:3.4px;background:#e53935;box-shadow:0 0 0 0.4px #e53935"></div></div></div><div class="sm" style="left:383.75px;top:238.7px"><div class="nd bl" style="width:117.1116504854369px;height:57.8px"><div class="hd" style="height:15.6px;border-bottom:1px solid #3d7fd3"></div><div class="bar hb" style="left:calc(50% - 28.32px);top:6.00px;width:56.65px;height:4.20px;background:#dbe8fa;color:#dbe8fa"></div><div class="bx" style="left:7px;top:20.7px;width:72.9116504854369px;height:13.7px;background:#3a7dd4;overflow:hidden"><div class="bar" style="left:4px;top:2.5px;width:56.72px;height:4px;background:#fff;color:#fff"></div><div class="bar" style="left:4.6px;top:8px;width:4.6px;height:4.4px;background:#b88a50;color:#b88a50"></div><div class="bar" style="left:11.5px;top:8.6px;width:13px;height:3.6px;background:#cfe0f7;color:#cfe0f7;opacity:0.4"></div></div><div class="bar" style="right:10.4px;top:25.75px;width:19.86px;height:3.90px;background:#fff;color:#fff"></div><div class="bar" style="left:6.7px;top:44.55px;width:11.56px;height:3.90px;background:#e6effb;color:#e6effb"></div><div class="bar" style="left:22.6px;top:44.5px;width:5.5px;height:4px;background:#fff;color:#fff"></div><div class="pt dot" style="left:-1.5px;top:26.9px;width:3.0px;height:3.0px;background:#fde0e0;box-shadow:0 0 0 0.8px #e46a6a"></div><div class="pt dot" style="left:115.4116504854369px;top:26.0px;width:3.4px;height:3.4px;background:#e53935;box-shadow:0 0 0 0.4px #e53935"></div></div></div><div class="sm" style="left:377px;top:311.9px"><div class="nd bl" style="width:123.05825242718448px;height:57.8px"><div class="hd" style="height:15.6px;border-bottom:1px solid #3d7fd3"></div><div class="bar hb" style="left:calc(50% - 28.32px);top:6.00px;width:56.65px;height:4.20px;background:#dbe8fa;color:#dbe8fa"></div><div class="bx" style="left:7px;top:20.7px;width:78.85825242718448px;height:13.7px;background:#3a7dd4;overflow:hidden"><div class="bar" style="left:4px;top:2.5px;width:60.69px;height:4px;background:#fff;color:#fff"></div><div class="bar" style="left:4.6px;top:8px;width:4.6px;height:4.4px;background:#b88a50;color:#b88a50"></div><div class="bar" style="left:11.5px;top:8.6px;width:13px;height:3.6px;background:#cfe0f7;color:#cfe0f7;opacity:0.4"></div></div><div class="bar" style="right:10.4px;top:25.75px;width:19.86px;height:3.90px;background:#fff;color:#fff"></div><div class="bar" style="left:6.7px;top:44.55px;width:11.56px;height:3.90px;background:#e6effb;color:#e6effb"></div><div class="bar" style="left:22.6px;top:44.5px;width:5.5px;height:4px;background:#fff;color:#fff"></div><div class="pt dot" style="left:-1.5px;top:26.9px;width:3.0px;height:3.0px;background:#fde0e0;box-shadow:0 0 0 0.8px #e46a6a"></div><div class="pt dot" style="left:121.35825242718448px;top:26.0px;width:3.4px;height:3.4px;background:#e53935;box-shadow:0 0 0 0.4px #e53935"></div></div></div><div class="sm" style="left:161.7px;top:383px"><div class="nd bl" style="width:126.94174757281553px;height:57.8px"><div class="hd" style="height:15.6px;border-bottom:1px solid #3d7fd3"></div><div class="bar hb" style="left:calc(50% - 28.32px);top:6.00px;width:56.65px;height:4.20px;background:#dbe8fa;color:#dbe8fa"></div><div class="bx" style="left:7px;top:20.7px;width:82.74174757281553px;height:13.7px;background:#3a7dd4;overflow:hidden"><div class="bar" style="left:4px;top:2.5px;width:70.44px;height:4px;background:#fff;color:#fff"></div><div class="bar" style="left:4.6px;top:8px;width:4.6px;height:4.4px;background:#b88a50;color:#b88a50"></div><div class="bar" style="left:11.5px;top:8.6px;width:13px;height:3.6px;background:#cfe0f7;color:#cfe0f7;opacity:0.4"></div></div><div class="bar" style="right:10.4px;top:25.75px;width:19.86px;height:3.90px;background:#fff;color:#fff"></div><div class="bar" style="left:6.7px;top:44.55px;width:11.56px;height:3.90px;background:#e6effb;color:#e6effb"></div><div class="bar" style="left:22.6px;top:44.5px;width:5.5px;height:4px;background:#fff;color:#fff"></div><div class="pt dot" style="left:-1.5px;top:26.9px;width:3.0px;height:3.0px;background:#fde0e0;box-shadow:0 0 0 0.8px #e46a6a"></div><div class="pt dot" style="left:125.24174757281553px;top:26.0px;width:3.4px;height:3.4px;background:#e53935;box-shadow:0 0 0 0.4px #e53935"></div></div></div><div class="sm" style="left:376.8px;top:380.5px"><div class="nd bl" style="width:101.94174757281554px;height:57.8px"><div class="hd" style="height:15.6px;border-bottom:1px solid #3d7fd3"></div><div class="bar hb" style="left:calc(50% - 28.32px);top:6.00px;width:56.65px;height:4.20px;background:#dbe8fa;color:#dbe8fa"></div><div class="bx" style="left:7px;top:20.7px;width:57.74174757281554px;height:13.7px;background:#3a7dd4;overflow:hidden"><div class="bar" style="left:4px;top:2.5px;width:45.88px;height:4px;background:#fff;color:#fff"></div><div class="bar" style="left:4.6px;top:8px;width:4.6px;height:4.4px;background:#b88a50;color:#b88a50"></div><div class="bar" style="left:11.5px;top:8.6px;width:13px;height:3.6px;background:#cfe0f7;color:#cfe0f7;opacity:0.4"></div></div><div class="bar" style="right:10.4px;top:25.75px;width:19.86px;height:3.90px;background:#fff;color:#fff"></div><div class="bar" style="left:6.7px;top:44.55px;width:11.56px;height:3.90px;background:#e6effb;color:#e6effb"></div><div class="bar" style="left:22.6px;top:44.5px;width:5.5px;height:4px;background:#fff;color:#fff"></div><div class="pt dot" style="left:-1.5px;top:26.9px;width:3.0px;height:3.0px;background:#fde0e0;box-shadow:0 0 0 0.8px #e46a6a"></div><div class="pt dot" style="left:100.24174757281554px;top:26.0px;width:3.4px;height:3.4px;background:#e53935;box-shadow:0 0 0 0.4px #e53935"></div></div></div><div class="sm" style="left:958.5px;top:176px"><div class="nd bl" style="width:121.35922330097088px;height:57.8px"><div class="hd" style="height:15.6px;border-bottom:1px solid #3d7fd3"></div><div class="bar hb" style="left:calc(50% - 28.32px);top:6.00px;width:56.65px;height:4.20px;background:#dbe8fa;color:#dbe8fa"></div><div class="bx" style="left:7px;top:20.7px;width:77.15922330097088px;height:13.7px;background:#3a7dd4;overflow:hidden"><div class="bar" style="left:4px;top:2.5px;width:59.61px;height:4px;background:#fff;color:#fff"></div><div class="bar" style="left:4.6px;top:8px;width:4.6px;height:4.4px;background:#b88a50;color:#b88a50"></div><div class="bar" style="left:11.5px;top:8.6px;width:13px;height:3.6px;background:#cfe0f7;color:#cfe0f7;opacity:0.4"></div></div><div class="bar" style="right:10.4px;top:25.75px;width:19.86px;height:3.90px;background:#fff;color:#fff"></div><div class="bar" style="left:6.7px;top:44.55px;width:11.56px;height:3.90px;background:#e6effb;color:#e6effb"></div><div class="bar" style="left:22.6px;top:44.5px;width:5.5px;height:4px;background:#fff;color:#fff"></div><div class="pt dot" style="left:-1.5px;top:26.9px;width:3.0px;height:3.0px;background:#fde0e0;box-shadow:0 0 0 0.8px #e46a6a"></div><div class="pt dot" style="left:119.65922330097088px;top:26.0px;width:3.4px;height:3.4px;background:#e53935;box-shadow:0 0 0 0.4px #e53935"></div></div></div><div class="sm" style="left:958.5px;top:241px"><div class="nd bl" style="width:121.35922330097088px;height:57.8px"><div class="hd" style="height:15.6px;border-bottom:1px solid #3d7fd3"></div><div class="bar hb" style="left:calc(50% - 28.32px);top:6.00px;width:56.65px;height:4.20px;background:#dbe8fa;color:#dbe8fa"></div><div class="bx" style="left:7px;top:20.7px;width:77.15922330097088px;height:13.7px;background:#3a7dd4;overflow:hidden"><div class="bar" style="left:4px;top:2.5px;width:59.61px;height:4px;background:#fff;color:#fff"></div><div class="bar" style="left:4.6px;top:8px;width:4.6px;height:4.4px;background:#b88a50;color:#b88a50"></div><div class="bar" style="left:11.5px;top:8.6px;width:13px;height:3.6px;background:#cfe0f7;color:#cfe0f7;opacity:0.4"></div></div><div class="bar" style="right:10.4px;top:25.75px;width:19.86px;height:3.90px;background:#fff;color:#fff"></div><div class="bar" style="left:6.7px;top:44.55px;width:11.56px;height:3.90px;background:#e6effb;color:#e6effb"></div><div class="bar" style="left:22.6px;top:44.5px;width:5.5px;height:4px;background:#fff;color:#fff"></div><div class="pt dot" style="left:-1.5px;top:26.9px;width:3.0px;height:3.0px;background:#fde0e0;box-shadow:0 0 0 0.8px #e46a6a"></div><div class="pt dot" style="left:119.65922330097088px;top:26.0px;width:3.4px;height:3.4px;background:#e53935;box-shadow:0 0 0 0.4px #e53935"></div></div></div><div class="sm" style="left:965.4px;top:309.6px"><div class="nd bl" style="width:121.35922330097088px;height:57.8px"><div class="hd" style="height:15.6px;border-bottom:1px solid #3d7fd3"></div><div class="bar hb" style="left:calc(50% - 28.32px);top:6.00px;width:56.65px;height:4.20px;background:#dbe8fa;color:#dbe8fa"></div><div class="bx" style="left:7px;top:20.7px;width:77.15922330097088px;height:13.7px;background:#3a7dd4;overflow:hidden"><div class="bar" style="left:4px;top:2.5px;width:59.61px;height:4px;background:#fff;color:#fff"></div><div class="bar" style="left:4.6px;top:8px;width:4.6px;height:4.4px;background:#b88a50;color:#b88a50"></div><div class="bar" style="left:11.5px;top:8.6px;width:13px;height:3.6px;background:#cfe0f7;color:#cfe0f7;opacity:0.4"></div></div><div class="bar" style="right:10.4px;top:25.75px;width:19.86px;height:3.90px;background:#fff;color:#fff"></div><div class="bar" style="left:6.7px;top:44.55px;width:11.56px;height:3.90px;background:#e6effb;color:#e6effb"></div><div class="bar" style="left:22.6px;top:44.5px;width:5.5px;height:4px;background:#fff;color:#fff"></div><div class="pt dot" style="left:-1.5px;top:26.9px;width:3.0px;height:3.0px;background:#fde0e0;box-shadow:0 0 0 0.8px #e46a6a"></div><div class="pt dot" style="left:119.65922330097088px;top:26.0px;width:3.4px;height:3.4px;background:#e53935;box-shadow:0 0 0 0.4px #e53935"></div></div></div><div class="sm" style="left:952.2px;top:385px"><div class="nd bl" style="width:121.35922330097088px;height:57.8px"><div class="hd" style="height:15.6px;border-bottom:1px solid #3d7fd3"></div><div class="bar hb" style="left:calc(50% - 28.32px);top:6.00px;width:56.65px;height:4.20px;background:#dbe8fa;color:#dbe8fa"></div><div class="bx" style="left:7px;top:20.7px;width:77.15922330097088px;height:13.7px;background:#3a7dd4;overflow:hidden"><div class="bar" style="left:4px;top:2.5px;width:59.61px;height:4px;background:#fff;color:#fff"></div><div class="bar" style="left:4.6px;top:8px;width:4.6px;height:4.4px;background:#b88a50;color:#b88a50"></div><div class="bar" style="left:11.5px;top:8.6px;width:13px;height:3.6px;background:#cfe0f7;color:#cfe0f7;opacity:0.4"></div></div><div class="bar" style="right:10.4px;top:25.75px;width:19.86px;height:3.90px;background:#fff;color:#fff"></div><div class="bar" style="left:6.7px;top:44.55px;width:11.56px;height:3.90px;background:#e6effb;color:#e6effb"></div><div class="bar" style="left:22.6px;top:44.5px;width:5.5px;height:4px;background:#fff;color:#fff"></div><div class="pt dot" style="left:-1.5px;top:26.9px;width:3.0px;height:3.0px;background:#fde0e0;box-shadow:0 0 0 0.8px #e46a6a"></div><div class="pt dot" style="left:119.65922330097088px;top:26.0px;width:3.4px;height:3.4px;background:#e53935;box-shadow:0 0 0 0.4px #e53935"></div></div></div><div class="sm" style="left:263px;top:200.8px"><div class="nd gr" style="width:104px;height:38.6px"><div class="hd" style="height:15.6px;border-bottom:1px solid #6aa34d"></div><div class="bar hb" style="left:calc(50% - 29.43px);top:5.90px;width:58.86px;height:4.20px;background:#e6f0dc;color:#e6f0dc"></div><div class="bx" style="left:6px;top:20.7px;width:45px;height:13.7px;background:#69a44b"></div><div class="bar" style="left:21.5px;top:25.65px;width:7.23px;height:3.90px;background:#eef7e6;color:#eef7e6"></div><div class="bar" style="right:11px;top:25.75px;width:17.70px;height:3.90px;background:#fff;color:#fff"></div><div class="pt" style="left:98.5px;top:22.2px;width:11.0px;height:11.0px;background:#262626"><svg width="11.0" height="11.0" viewBox="-5.5 -5.5 11 11"><path d="M-2.6 0H2.4M0.2-2.4L2.6 0L0.2 2.4" stroke="#fff" stroke-width="1.3" fill="none" stroke-linecap="round" stroke-linejoin="round"/></svg></div><div class="pt" style="left:-5.5px;top:3.0999999999999996px;width:11.0px;height:11.0px;background:#262626"><svg width="11.0" height="11.0" viewBox="-5.5 -5.5 11 11"><path d="M-2.6 0H2.4M0.2-2.4L2.6 0L0.2 2.4" stroke="#fff" stroke-width="1.3" fill="none" stroke-linecap="round" stroke-linejoin="round"/></svg></div></div></div><div class="sm" style="left:443px;top:160.5px"><div class="nd gr" style="width:104px;height:38.6px"><div class="hd" style="height:15.6px;border-bottom:1px solid #6aa34d"></div><div class="bar hb" style="left:calc(50% - 29.43px);top:5.90px;width:58.86px;height:4.20px;background:#e6f0dc;color:#e6f0dc"></div><div class="bx" style="left:6px;top:20.7px;width:45px;height:13.7px;background:#69a44b"></div><div class="bar" style="left:21.5px;top:25.65px;width:7.23px;height:3.90px;background:#eef7e6;color:#eef7e6"></div><div class="bar" style="right:11px;top:25.75px;width:17.70px;height:3.90px;background:#fff;color:#fff"></div><div class="pt" style="left:98.5px;top:22.2px;width:11.0px;height:11.0px;background:#262626"><svg width="11.0" height="11.0" viewBox="-5.5 -5.5 11 11"><path d="M-2.6 0H2.4M0.2-2.4L2.6 0L0.2 2.4" stroke="#fff" stroke-width="1.3" fill="none" stroke-linecap="round" stroke-linejoin="round"/></svg></div><div class="pt" style="left:-5.5px;top:3.0999999999999996px;width:11.0px;height:11.0px;background:#262626"><svg width="11.0" height="11.0" viewBox="-5.5 -5.5 11 11"><path d="M-2.6 0H2.4M0.2-2.4L2.6 0L0.2 2.4" stroke="#fff" stroke-width="1.3" fill="none" stroke-linecap="round" stroke-linejoin="round"/></svg></div></div></div><div class="sm" style="left:443px;top:218px"><div class="nd gr" style="width:104px;height:38.6px"><div class="hd" style="height:15.6px;border-bottom:1px solid #6aa34d"></div><div class="bar hb" style="left:calc(50% - 29.43px);top:5.90px;width:58.86px;height:4.20px;background:#e6f0dc;color:#e6f0dc"></div><div class="bx" style="left:6px;top:20.7px;width:45px;height:13.7px;background:#69a44b"></div><div class="bar" style="left:21.5px;top:25.65px;width:7.23px;height:3.90px;background:#eef7e6;color:#eef7e6"></div><div class="bar" style="right:11px;top:25.75px;width:17.70px;height:3.90px;background:#fff;color:#fff"></div><div class="pt" style="left:98.5px;top:22.2px;width:11.0px;height:11.0px;background:#262626"><svg width="11.0" height="11.0" viewBox="-5.5 -5.5 11 11"><path d="M-2.6 0H2.4M0.2-2.4L2.6 0L0.2 2.4" stroke="#fff" stroke-width="1.3" fill="none" stroke-linecap="round" stroke-linejoin="round"/></svg></div><div class="pt" style="left:-5.5px;top:3.0999999999999996px;width:11.0px;height:11.0px;background:#262626"><svg width="11.0" height="11.0" viewBox="-5.5 -5.5 11 11"><path d="M-2.6 0H2.4M0.2-2.4L2.6 0L0.2 2.4" stroke="#fff" stroke-width="1.3" fill="none" stroke-linecap="round" stroke-linejoin="round"/></svg></div></div></div><div class="sm" style="left:244.7px;top:267px"><div class="nd gr" style="width:104px;height:38.6px"><div class="hd" style="height:15.6px;border-bottom:1px solid #6aa34d"></div><div class="bar hb" style="left:calc(50% - 29.43px);top:5.90px;width:58.86px;height:4.20px;background:#e6f0dc;color:#e6f0dc"></div><div class="bx" style="left:6px;top:20.7px;width:45px;height:13.7px;background:#69a44b"></div><div class="bar" style="left:21.5px;top:25.65px;width:7.23px;height:3.90px;background:#eef7e6;color:#eef7e6"></div><div class="bar" style="right:11px;top:25.75px;width:17.70px;height:3.90px;background:#fff;color:#fff"></div><div class="pt" style="left:98.5px;top:22.2px;width:11.0px;height:11.0px;background:#262626"><svg width="11.0" height="11.0" viewBox="-5.5 -5.5 11 11"><path d="M-2.6 0H2.4M0.2-2.4L2.6 0L0.2 2.4" stroke="#fff" stroke-width="1.3" fill="none" stroke-linecap="round" stroke-linejoin="round"/></svg></div><div class="pt" style="left:-5.5px;top:3.0999999999999996px;width:11.0px;height:11.0px;background:#262626"><svg width="11.0" height="11.0" viewBox="-5.5 -5.5 11 11"><path d="M-2.6 0H2.4M0.2-2.4L2.6 0L0.2 2.4" stroke="#fff" stroke-width="1.3" fill="none" stroke-linecap="round" stroke-linejoin="round"/></svg></div></div></div><div class="sm" style="left:438.4px;top:271.9px"><div class="nd gr" style="width:104px;height:38.6px"><div class="hd" style="height:15.6px;border-bottom:1px solid #6aa34d"></div><div class="bar hb" style="left:calc(50% - 29.43px);top:5.90px;width:58.86px;height:4.20px;background:#e6f0dc;color:#e6f0dc"></div><div class="bx" style="left:6px;top:20.7px;width:45px;height:13.7px;background:#69a44b"></div><div class="bar" style="left:21.5px;top:25.65px;width:7.23px;height:3.90px;background:#eef7e6;color:#eef7e6"></div><div class="bar" style="right:11px;top:25.75px;width:17.70px;height:3.90px;background:#fff;color:#fff"></div><div class="pt" style="left:98.5px;top:22.2px;width:11.0px;height:11.0px;background:#262626"><svg width="11.0" height="11.0" viewBox="-5.5 -5.5 11 11"><path d="M-2.6 0H2.4M0.2-2.4L2.6 0L0.2 2.4" stroke="#fff" stroke-width="1.3" fill="none" stroke-linecap="round" stroke-linejoin="round"/></svg></div><div class="pt" style="left:-5.5px;top:3.0999999999999996px;width:11.0px;height:11.0px;background:#262626"><svg width="11.0" height="11.0" viewBox="-5.5 -5.5 11 11"><path d="M-2.6 0H2.4M0.2-2.4L2.6 0L0.2 2.4" stroke="#fff" stroke-width="1.3" fill="none" stroke-linecap="round" stroke-linejoin="round"/></svg></div></div></div><div class="sm" style="left:238.9px;top:345px"><div class="nd gr" style="width:104px;height:38.6px"><div class="hd" style="height:15.6px;border-bottom:1px solid #6aa34d"></div><div class="bar hb" style="left:calc(50% - 29.43px);top:5.90px;width:58.86px;height:4.20px;background:#e6f0dc;color:#e6f0dc"></div><div class="bx" style="left:6px;top:20.7px;width:45px;height:13.7px;background:#69a44b"></div><div class="bar" style="left:21.5px;top:25.65px;width:7.23px;height:3.90px;background:#eef7e6;color:#eef7e6"></div><div class="bar" style="right:11px;top:25.75px;width:17.70px;height:3.90px;background:#fff;color:#fff"></div><div class="pt" style="left:98.5px;top:22.2px;width:11.0px;height:11.0px;background:#262626"><svg width="11.0" height="11.0" viewBox="-5.5 -5.5 11 11"><path d="M-2.6 0H2.4M0.2-2.4L2.6 0L0.2 2.4" stroke="#fff" stroke-width="1.3" fill="none" stroke-linecap="round" stroke-linejoin="round"/></svg></div><div class="pt" style="left:-5.5px;top:3.0999999999999996px;width:11.0px;height:11.0px;background:#262626"><svg width="11.0" height="11.0" viewBox="-5.5 -5.5 11 11"><path d="M-2.6 0H2.4M0.2-2.4L2.6 0L0.2 2.4" stroke="#fff" stroke-width="1.3" fill="none" stroke-linecap="round" stroke-linejoin="round"/></svg></div></div></div><div class="sm" style="left:438.7px;top:345px"><div class="nd gr" style="width:104px;height:38.6px"><div class="hd" style="height:15.6px;border-bottom:1px solid #6aa34d"></div><div class="bar hb" style="left:calc(50% - 29.43px);top:5.90px;width:58.86px;height:4.20px;background:#e6f0dc;color:#e6f0dc"></div><div class="bx" style="left:6px;top:20.7px;width:45px;height:13.7px;background:#69a44b"></div><div class="bar" style="left:21.5px;top:25.65px;width:7.23px;height:3.90px;background:#eef7e6;color:#eef7e6"></div><div class="bar" style="right:11px;top:25.75px;width:17.70px;height:3.90px;background:#fff;color:#fff"></div><div class="pt" style="left:98.5px;top:22.2px;width:11.0px;height:11.0px;background:#262626"><svg width="11.0" height="11.0" viewBox="-5.5 -5.5 11 11"><path d="M-2.6 0H2.4M0.2-2.4L2.6 0L0.2 2.4" stroke="#fff" stroke-width="1.3" fill="none" stroke-linecap="round" stroke-linejoin="round"/></svg></div><div class="pt" style="left:-5.5px;top:3.0999999999999996px;width:11.0px;height:11.0px;background:#262626"><svg width="11.0" height="11.0" viewBox="-5.5 -5.5 11 11"><path d="M-2.6 0H2.4M0.2-2.4L2.6 0L0.2 2.4" stroke="#fff" stroke-width="1.3" fill="none" stroke-linecap="round" stroke-linejoin="round"/></svg></div></div></div><div style="position:absolute;left:966.2px;top:356.5px;width:10px;height:20px;background:#f3c163;border-radius:2px"></div></div></div><div class="shclip"><div class="sh"></div></div><div class="mag"><div class="magin"><svg class="abs" width="1024" height="520"><line x1="500" y1="112" x2="880" y2="126" stroke="#2b2b2b" stroke-width="1.9" opacity="1"/><path d="M460 188.2C560 188.4 590 189.5 613 192.7" fill="none" stroke="#2b2b2b" stroke-width="1.9" opacity="1"/><path d="M553.3 169.6C590 169.6 580 192.7 613 192.7" fill="none" stroke="#2b2b2b" stroke-width="1.9" opacity="1"/><line x1="731.3" y1="192.7" x2="900" y2="191.3" stroke="#2b2b2b" stroke-width="1.9" opacity="1"/><path d="M731.3 192.7C770 188 800 168 875 139.6" fill="none" stroke="#2b2b2b" stroke-width="1.9" opacity="1"/><path d="M460 246C540 225 580 211.5 613 211.5" fill="none" stroke="#d93a3a" stroke-width="1.9" stroke-dasharray="4 2.6" opacity="1"/><line x1="455" y1="296" x2="642" y2="240" stroke="#2b2b2b" stroke-width="1.9" opacity="1"/><line x1="872" y1="251" x2="905" y2="245" stroke="#d93a3a" stroke-width="1.9" stroke-dasharray="4 2.6" opacity="1"/><path d="M553.3 321C590 321 570 355.5 602 355.5" fill="none" stroke="#2b2b2b" stroke-width="1.9" opacity="1"/><line x1="720" y1="355.5" x2="905" y2="284" stroke="#2b2b2b" stroke-width="1.9" opacity="1"/><line x1="460" y1="373.3" x2="602" y2="374.5" stroke="#d93a3a" stroke-width="1.9" stroke-dasharray="4 2.6" opacity="1"/><line x1="500" y1="422" x2="602" y2="403" stroke="#2b2b2b" stroke-width="1.9" opacity="1"/></svg><div class="bg" style="left:449.3px;top:141.9px"><div class="nd gr" style="width:104px;height:38.9px"><div class="hd" style="height:15.6px;border-bottom:1px solid #6aa34d"></div><div class="t ht" style="left:0;right:0;text-align:center;top:3.80px;font-size:7px;line-height:8.40px;color:#e6f0dc;font-weight:normal;">ON TIME PASSED</div><div class="bx" style="left:6px;top:20.7px;width:45px;height:13.7px;background:#69a44b"></div><div class="t" style="left:21.5px;top:23.70px;font-size:6.5px;line-height:7.80px;color:#eef7e6;font-weight:bold;">60</div><div class="t" style="right:11px;top:23.80px;font-size:6.5px;line-height:7.80px;color:#fff;font-weight:bold;">Event</div><div class="pt" style="left:98.5px;top:22.2px;width:11.0px;height:11.0px;background:#262626"><svg width="11.0" height="11.0" viewBox="-5.5 -5.5 11 11"><path d="M-2.6 0H2.4M0.2-2.4L2.6 0L0.2 2.4" stroke="#fff" stroke-width="1.3" fill="none" stroke-linecap="round" stroke-linejoin="round"/></svg></div><div class="pt" style="left:-5.5px;top:3.0999999999999996px;width:11.0px;height:11.0px;background:#262626"><svg width="11.0" height="11.0" viewBox="-5.5 -5.5 11 11"><path d="M-2.6 0H2.4M0.2-2.4L2.6 0L0.2 2.4" stroke="#fff" stroke-width="1.3" fill="none" stroke-linecap="round" stroke-linejoin="round"/></svg></div></div></div><div class="bg" style="left:613.1px;top:165.4px"><div class="nd dk" style="width:118.2px;height:75.6px"><div class="hd" style="height:15.4px;border-bottom:1px solid #444"></div><div class="t ht" style="left:0;right:0;text-align:center;top:4.50px;font-size:7px;line-height:8.40px;color:#e2e2e2;font-weight:normal;">SHOWOFFER</div><div class="t" style="left:10.5px;top:23.40px;font-size:6.5px;line-height:7.80px;color:#f4f4f4;font-weight:bold;">Enter1</div><div class="t" style="right:10.5px;top:23.40px;font-size:6.5px;line-height:7.80px;color:#f4f4f4;font-weight:bold;">Purchased</div><div class="bx" style="left:6px;top:39.4px;width:52.5px;height:13.6px;background:#454545"></div><div class="t" style="left:11px;top:42.30px;font-size:6.5px;line-height:7.80px;color:#f4f4f4;font-weight:bold;">GameOffer</div><div class="t" style="right:10.5px;top:42.20px;font-size:6.5px;line-height:7.80px;color:#f4f4f4;font-weight:bold;">Ended</div><div class="bx" style="left:6px;top:57.6px;width:52.5px;height:14px;background:#424242"></div><div class="t" style="left:11px;top:60.80px;font-size:6.5px;line-height:7.80px;color:#dadada;font-weight:normal;">0</div><div class="pt" style="left:-5.5px;top:21.8px;width:11.0px;height:11.0px;background:#262626"><svg width="11.0" height="11.0" viewBox="-5.5 -5.5 11 11"><path d="M-2.6 0H2.4M0.2-2.4L2.6 0L0.2 2.4" stroke="#fff" stroke-width="1.3" fill="none" stroke-linecap="round" stroke-linejoin="round"/></svg></div><div class="pt" style="left:112.7px;top:21.8px;width:11.0px;height:11.0px;background:#262626"><svg width="11.0" height="11.0" viewBox="-5.5 -5.5 11 11"><path d="M-2.6 0H2.4M0.2-2.4L2.6 0L0.2 2.4" stroke="#fff" stroke-width="1.3" fill="none" stroke-linecap="round" stroke-linejoin="round"/></svg></div><div class="pt" style="left:112.7px;top:40.6px;width:11.0px;height:11.0px;background:#262626"><svg width="11.0" height="11.0" viewBox="-5.5 -5.5 11 11"><path d="M-2.6 0H2.4M0.2-2.4L2.6 0L0.2 2.4" stroke="#fff" stroke-width="1.3" fill="none" stroke-linecap="round" stroke-linejoin="round"/></svg></div><div class="pt dot" style="left:-2.2px;top:43.9px;width:4.4px;height:4.4px;background:#e53935;box-shadow:0 0 0 0.5px #c62828"></div><div class="pt dot" style="left:-2.2px;top:62.39999999999999px;width:4.4px;height:4.4px;background:#b9f0c8;box-shadow:0 0 0 0.7px #4caf50"></div></div></div><div class="bg" style="left:753.3px;top:223.3px"><div class="nd bl" style="width:118.7px;height:57.8px"><div class="hd" style="height:15.6px;border-bottom:1px solid #3d7fd3"></div><div class="t ht" style="left:0;right:0;text-align:center;top:3.90px;font-size:7px;line-height:8.40px;color:#dbe8fa;font-weight:normal;">GET DOCUMENT</div><div class="bx" style="left:7px;top:20.7px;width:74.5px;height:13.7px;background:#3a7dd4;overflow:hidden"><div class="t" style="left:4px;top:0.6px;font-size:6.5px;line-height:7px;color:#fff;font-weight:bold">card_pack_m_offer</div><div style="position:absolute;left:5.6px;top:7.4px;width:2.6px;height:2.6px;border-radius:50%;background:#d79a4a"></div><div style="position:absolute;left:4.6px;top:9.6px;width:4.6px;height:2.8px;border-radius:2px 2px 0.5px 0.5px;background:#a8763e"></div><div class="t" style="left:11.5px;top:7.4px;font-size:5.5px;line-height:6px;color:#cfe0f7">Offer</div></div><div class="t" style="right:10.4px;top:23.80px;font-size:6.5px;line-height:7.80px;color:#fff;font-weight:bold;">Result</div><div class="t" style="left:6.7px;top:42.60px;font-size:6.5px;line-height:7.80px;color:#e6effb;font-weight:normal;">Add</div><div class="t" style="left:22.6px;top:41px;font-size:9.5px;line-height:10px;color:#fff;font-weight:bold">+</div><div class="pt dot" style="left:-1.5px;top:26.9px;width:3.0px;height:3.0px;background:#fde0e0;box-shadow:0 0 0 0.8px #e46a6a"></div><div class="pt dot" style="left:117.0px;top:26.0px;width:3.4px;height:3.4px;background:#e53935;box-shadow:0 0 0 0.4px #e53935"></div></div></div><div class="bg" style="left:449.3px;top:293.3px"><div class="nd gr" style="width:104px;height:38.6px"><div class="hd" style="height:15.6px;border-bottom:1px solid #6aa34d"></div><div class="t ht" style="left:0;right:0;text-align:center;top:3.80px;font-size:7px;line-height:8.40px;color:#e6f0dc;font-weight:normal;">ON TIME PASSED</div><div class="bx" style="left:6px;top:20.7px;width:45px;height:13.7px;background:#69a44b"></div><div class="t" style="left:21.5px;top:23.70px;font-size:6.5px;line-height:7.80px;color:#eef7e6;font-weight:bold;">60</div><div class="t" style="right:11px;top:23.80px;font-size:6.5px;line-height:7.80px;color:#fff;font-weight:bold;">Event</div><div class="pt" style="left:98.5px;top:22.2px;width:11.0px;height:11.0px;background:#262626"><svg width="11.0" height="11.0" viewBox="-5.5 -5.5 11 11"><path d="M-2.6 0H2.4M0.2-2.4L2.6 0L0.2 2.4" stroke="#fff" stroke-width="1.3" fill="none" stroke-linecap="round" stroke-linejoin="round"/></svg></div><div class="pt" style="left:-5.5px;top:3.0999999999999996px;width:11.0px;height:11.0px;background:#262626"><svg width="11.0" height="11.0" viewBox="-5.5 -5.5 11 11"><path d="M-2.6 0H2.4M0.2-2.4L2.6 0L0.2 2.4" stroke="#fff" stroke-width="1.3" fill="none" stroke-linecap="round" stroke-linejoin="round"/></svg></div></div></div><div class="bg" style="left:602.1px;top:328.3px"><div class="nd dk" style="width:118px;height:75.5px"><div class="hd" style="height:15.4px;border-bottom:1px solid #444"></div><div class="t ht" style="left:0;right:0;text-align:center;top:4.50px;font-size:7px;line-height:8.40px;color:#e2e2e2;font-weight:normal;">SHOWOFFER</div><div class="t" style="left:10.5px;top:23.40px;font-size:6.5px;line-height:7.80px;color:#f4f4f4;font-weight:bold;">Enter1</div><div class="t" style="right:10.5px;top:23.40px;font-size:6.5px;line-height:7.80px;color:#f4f4f4;font-weight:bold;">Purchased</div><div class="bx" style="left:6px;top:39.4px;width:52.5px;height:13.6px;background:#454545"></div><div class="t" style="left:11px;top:42.30px;font-size:6.5px;line-height:7.80px;color:#f4f4f4;font-weight:bold;">GameOffer</div><div class="t" style="right:10.5px;top:42.20px;font-size:6.5px;line-height:7.80px;color:#f4f4f4;font-weight:bold;">Ended</div><div class="bx" style="left:6px;top:57.6px;width:52.5px;height:14px;background:#424242"></div><div class="t" style="left:11px;top:60.80px;font-size:6.5px;line-height:7.80px;color:#dadada;font-weight:normal;">0</div><div class="pt" style="left:-5.5px;top:21.8px;width:11.0px;height:11.0px;background:#262626"><svg width="11.0" height="11.0" viewBox="-5.5 -5.5 11 11"><path d="M-2.6 0H2.4M0.2-2.4L2.6 0L0.2 2.4" stroke="#fff" stroke-width="1.3" fill="none" stroke-linecap="round" stroke-linejoin="round"/></svg></div><div class="pt" style="left:112.5px;top:21.8px;width:11.0px;height:11.0px;background:#262626"><svg width="11.0" height="11.0" viewBox="-5.5 -5.5 11 11"><path d="M-2.6 0H2.4M0.2-2.4L2.6 0L0.2 2.4" stroke="#fff" stroke-width="1.3" fill="none" stroke-linecap="round" stroke-linejoin="round"/></svg></div><div class="pt" style="left:112.5px;top:40.6px;width:11.0px;height:11.0px;background:#262626"><svg width="11.0" height="11.0" viewBox="-5.5 -5.5 11 11"><path d="M-2.6 0H2.4M0.2-2.4L2.6 0L0.2 2.4" stroke="#fff" stroke-width="1.3" fill="none" stroke-linecap="round" stroke-linejoin="round"/></svg></div><div class="pt dot" style="left:-2.2px;top:43.9px;width:4.4px;height:4.4px;background:#e53935;box-shadow:0 0 0 0.5px #c62828"></div><div class="pt dot" style="left:-2.2px;top:62.39999999999999px;width:4.4px;height:4.4px;background:#b9f0c8;box-shadow:0 0 0 0.7px #4caf50"></div></div></div><div class="bg" style="left:748.4px;top:374.4px"><div class="nd bl" style="width:154.6px;height:57.8px"><div class="hd" style="height:15.6px;border-bottom:1px solid #3d7fd3"></div><div class="t ht" style="left:0;right:0;text-align:center;top:3.90px;font-size:7px;line-height:8.40px;color:#dbe8fa;font-weight:normal;">GET DOCUMENT</div><div class="bx" style="left:7px;top:20.7px;width:110.39999999999999px;height:13.7px;background:#3a7dd4;overflow:hidden"><div class="t" style="left:4px;top:0.6px;font-size:6.5px;line-height:7px;color:#fff;font-weight:bold">keep_up_the_defenses2_offer</div><div style="position:absolute;left:5.6px;top:7.4px;width:2.6px;height:2.6px;border-radius:50%;background:#d79a4a"></div><div style="position:absolute;left:4.6px;top:9.6px;width:4.6px;height:2.8px;border-radius:2px 2px 0.5px 0.5px;background:#a8763e"></div><div class="t" style="left:11.5px;top:7.4px;font-size:5.5px;line-height:6px;color:#cfe0f7">Offer</div></div><div class="t" style="right:10.4px;top:23.80px;font-size:6.5px;line-height:7.80px;color:#fff;font-weight:bold;">Result</div><div class="t" style="left:6.7px;top:42.60px;font-size:6.5px;line-height:7.80px;color:#e6effb;font-weight:normal;">Add</div><div class="t" style="left:22.6px;top:41px;font-size:9.5px;line-height:10px;color:#fff;font-weight:bold">+</div><div class="pt dot" style="left:-1.5px;top:26.9px;width:3.0px;height:3.0px;background:#fde0e0;box-shadow:0 0 0 0.8px #e46a6a"></div><div class="pt dot" style="left:152.9px;top:26.0px;width:3.4px;height:3.4px;background:#e53935;box-shadow:0 0 0 0.4px #e53935"></div></div></div><div style="position:absolute;left:560px;top:446.6px;width:29.3px;height:40px;background:#1e88e5"></div><div style="position:absolute;left:589.3px;top:446.6px;width:158.7px;height:40px;background:#fff;box-shadow:0 0 3px rgba(0,0,0,0.12)"></div><svg class="abs" width="1024" height="520" fill="none" stroke-linecap="round" stroke-linejoin="round"><path d="M598.5 455.5l3-2.6M598.5 455.5l3 2.4M598.5 455.5h5.5a3.5 3.5 0 0 1 3.5 3.5v2" stroke="#cfcfcf" stroke-width="1"/><path d="M626 455.5l-3-2.6M626 455.5l-3 2.4M626 455.5h-5a3.5 3.5 0 0 0-3.5 3.5v2.5" stroke="#9a9a9a" stroke-width="1"/><line x1="633" y1="448" x2="633" y2="470" stroke="#ececec" stroke-width="1"/><line x1="704.5" y1="448" x2="704.5" y2="470" stroke="#ececec" stroke-width="1"/><circle cx="644.5" cy="456.4" r="3.4" stroke="#555" stroke-width="1.15"/><path d="M647 458.9l2 2M643 456.4h3M644.5 454.9v3" stroke="#555" stroke-width="1.1"/><circle cx="693.2" cy="456.4" r="3.4" stroke="#555" stroke-width="1.15"/><path d="M695.7 458.9l2 2M691.7 456.4h3" stroke="#555" stroke-width="1.1"/><path d="M712.6 452.8v8M719.6 452.8v8M714.3 456.8h3.6M715.3 455.8l-1 1 1 1M716.9 455.8l1 1-1 1" stroke="#555" stroke-width="1.1"/><path d="M731.6 453.5v6.8h7.4M732.9 458.6l2-2 1.5 1.2 2.2-2.4" stroke="#555" stroke-width="1.1"/><path d="M737.2 455h1.6v1.6" stroke="#555" stroke-width="1"/></svg><div class="t" style="left:660px;top:453.5px;font-size:5.5px;line-height:7px;color:#7a7a7a">134.1%</div></div></div></body></html>
